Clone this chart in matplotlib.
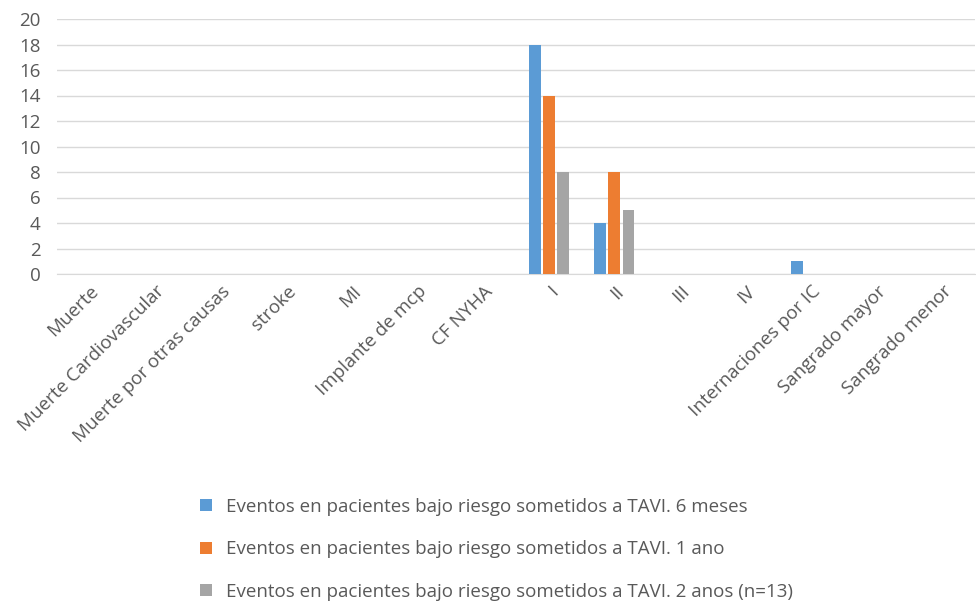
import matplotlib
matplotlib.use("Agg")
import matplotlib.pyplot as plt
import numpy as np

categories = ["Muerte", "Muerte Cardiovascular", "Muerte por otras causas", "stroke", "MI",
              "Implante de mcp", "CF NYHA", "I", "II", "III", "IV",
              "Internaciones por IC", "Sangrado mayor", "Sangrado menor"]
series_names = ["Eventos en pacientes bajo riesgo sometidos a TAVI. 6 meses",
                "Eventos en pacientes bajo riesgo sometidos a TAVI. 1 ano",
                "Eventos en pacientes bajo riesgo sometidos a TAVI. 2 anos (n=13)"]
s6m = [0, 0, 0, 0, 0, 0, 0, 18, 4, 0, 0, 1, 0, 0]
s1a = [0, 0, 0, 0, 0, 0, 0, 14, 8, 0, 0, 0, 0, 0]
s2a = [0, 0, 0, 0, 0, 0, 0, 8, 5, 0, 0, 0, 0, 0]
yticks = [0, 2, 4, 6, 8, 10, 12, 14, 16, 18, 20]

colors = ["#5B9BD5", "#ED7D31", "#A5A5A5"]
txt = "#595959"
plt.rcParams['font.family'] = ['Open Sans', 'DejaVu Sans']

fig = plt.figure(figsize=(9.76, 6.01), dpi=100)
ax = fig.add_axes([57/976, 1-274/601, 918/976, 255/601])
x = np.arange(len(categories))
w = 0.18
off = 0.215
for i, (vals, c, n) in enumerate(zip([s6m, s1a, s2a], colors, series_names)):
    vals = np.array(vals, dtype=float)
    mask = vals > 0
    ax.bar(x[mask] + (i-1)*off, vals[mask], w, color=c, label=n, zorder=3)

ax.set_xlim(-0.5, len(categories)-0.5)
ax.set_ylim(0, 20)
ax.set_yticks(yticks)
ax.yaxis.grid(True, color="#D9D9D9", linewidth=1, zorder=0)
ax.set_axisbelow(True)
for s in ["top", "right", "left"]:
    ax.spines[s].set_visible(False)
ax.spines["bottom"].set_color("#D9D9D9")
ax.tick_params(axis="both", length=0, colors=txt, labelsize=13.5)
ax.tick_params(axis="y", pad=12)
ax.set_xticks(x)
ax.set_xticklabels(categories, rotation=45, ha="right", va="top", rotation_mode="anchor")
ax.tick_params(axis="x", pad=6)

handles, labels = ax.get_legend_handles_labels()
leg = fig.legend(handles, labels, loc="upper left", bbox_to_anchor=(200/976, 1-498/601),
                 frameon=False, fontsize=13.5, labelcolor=txt, handlelength=0.62, handleheight=0.62,
                 handletextpad=0.75, labelspacing=1.3, borderaxespad=0, borderpad=0)

fig.savefig("out.png", dpi=100, facecolor="white")
